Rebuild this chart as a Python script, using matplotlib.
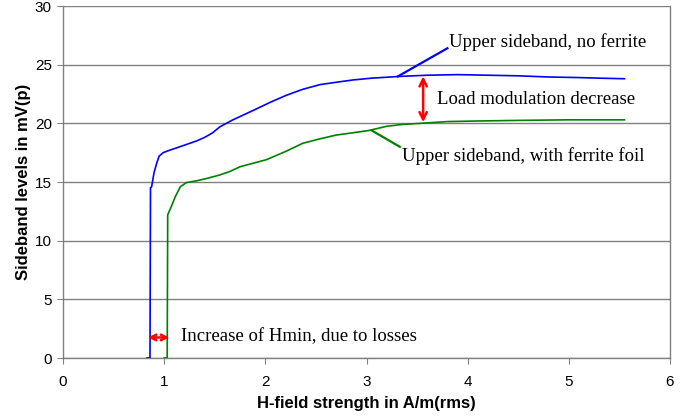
import matplotlib
matplotlib.use("Agg")
import matplotlib.pyplot as plt

# Blue: upper sideband, no ferrite
blue_x = [0.83, 0.86, 0.865, 0.876, 0.90, 0.926, 0.95, 0.99, 1.05, 1.12, 1.22, 1.32, 1.40,
          1.48, 1.55, 1.68, 1.88, 2.05, 2.21, 2.37, 2.54, 2.70, 2.87, 3.05, 3.33, 3.6,
          3.9, 4.2, 4.5, 4.8, 5.1, 5.3, 5.55]
blue_y = [0.0, 0.0, 14.5, 14.6, 15.8, 16.6, 17.2, 17.5, 17.7, 17.9, 18.2, 18.5, 18.8,
          19.2, 19.7, 20.3, 21.1, 21.8, 22.4, 22.9, 23.3, 23.5, 23.7, 23.85, 24.0, 24.1,
          24.15, 24.1, 24.05, 23.95, 23.9, 23.85, 23.8]

# Green: upper sideband, with ferrite foil
green_x = [1.00, 1.03, 1.035, 1.07, 1.11, 1.16, 1.22, 1.32, 1.42, 1.55, 1.65, 1.75, 1.88,
           2.01, 2.2, 2.37, 2.55, 2.70, 2.87, 3.03, 3.2, 3.35, 3.53, 3.8, 4.1, 4.5, 5.0, 5.55]
green_y = [0.0, 0.0, 12.2, 12.9, 13.75, 14.6, 14.95, 15.1, 15.3, 15.6, 15.9, 16.3, 16.6,
           16.9, 17.6, 18.3, 18.7, 19.0, 19.2, 19.4, 19.75, 19.9, 20.0, 20.15, 20.2, 20.25, 20.3, 20.3]

x_ticks = [0, 1, 2, 3, 4, 5, 6]
y_ticks = [0, 5, 10, 15, 20, 25, 30]

fig = plt.figure(figsize=(6.93, 4.18), dpi=100)
ax = fig.add_axes([63/693, 1 - 358/418, (670 - 63)/693, (358 - 6)/418])

ax.plot(blue_x, blue_y, color="#0000ff", lw=1.2, zorder=3)
ax.plot(green_x, green_y, color="#008000", lw=1.2, zorder=3)

ax.set_xlim(0, 6)
ax.set_ylim(0, 30)
ax.set_xticks(x_ticks)
ax.set_yticks(y_ticks)
ax.yaxis.grid(True, color="#808080", lw=1.0)
ax.set_axisbelow(True)
for s in ["left", "bottom", "right"]:
    ax.spines[s].set_color("#808080")
    ax.spines[s].set_linewidth(1.0)
ax.spines["top"].set_visible(False)
ax.tick_params(direction="out", length=4, color="#808080", labelsize=11,
               labelcolor="black")
ax.tick_params(axis="x", pad=8)
ax.tick_params(axis="y", pad=4)
for lbl in ax.get_xticklabels() + ax.get_yticklabels():
    lbl.set_family("Liberation Sans")

ax.set_xlabel("H-field strength in A/m(rms)", fontsize=12, fontweight="bold",
              family="Liberation Sans", labelpad=5)
ax.set_ylabel("Sideband levels in mV(p)", fontsize=12, fontweight="bold",
              family="Liberation Sans", labelpad=3)

tfont = dict(family="Liberation Serif", fontsize=13.5, color="black")

# Annotations
ax.plot([3.31, 3.80], [24.0, 26.4], color="#0000ff", lw=1.6, zorder=4)
ax.text(3.82, 26.9, "Upper sideband, no ferrite", va="center", ha="left", **tfont)

ax.annotate("", xy=(3.56, 24.0), xytext=(3.56, 20.1),
            arrowprops=dict(arrowstyle="<->", color="red", lw=1.8, shrinkA=0, shrinkB=0,
                            mutation_scale=13))
ax.text(3.70, 22.0, "Load modulation decrease", va="center", ha="left", **tfont)

ax.plot([3.05, 3.33], [19.4, 18.0], color="#008000", lw=1.6, zorder=4)
ax.text(3.35, 17.2, "Upper sideband, with ferrite foil", va="center", ha="left", **tfont)

ax.annotate("", xy=(0.84, 1.75), xytext=(1.05, 1.75),
            arrowprops=dict(arrowstyle="<->", color="red", lw=1.8, shrinkA=0, shrinkB=0,
                            mutation_scale=10))
ax.text(1.17, 1.8, "Increase of Hmin, due to losses", va="center", ha="left", **tfont)

fig.savefig("out.png", dpi=100)
